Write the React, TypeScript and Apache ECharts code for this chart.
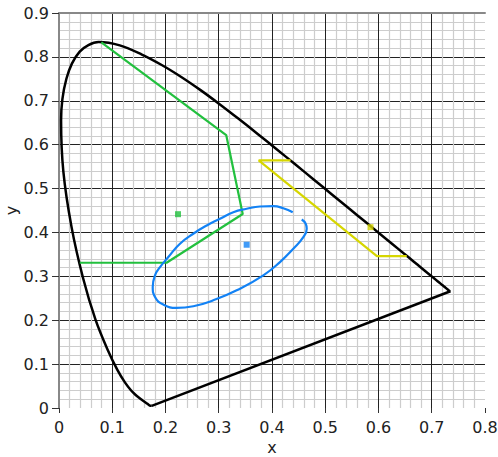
import React, { useEffect, useRef } from "react";
import * as echarts from "echarts";

// CIE 1931 spectral locus (x, y)
const locusX = [0.1741, 0.1714, 0.1689, 0.1644, 0.1566, 0.1510, 0.1440, 0.1355, 0.1241, 0.1096, 0.0913, 0.0687, 0.0454, 0.0235, 0.0082, 0.0039, 0.0139, 0.0389, 0.0743, 0.1142, 0.1547, 0.1929, 0.2296, 0.2658, 0.3016, 0.3373, 0.3731, 0.4087, 0.4441, 0.4788, 0.5125, 0.5448, 0.5752, 0.6029, 0.6270, 0.6482, 0.6658, 0.6801, 0.6915, 0.7006, 0.7079, 0.7140, 0.7190, 0.7230, 0.7260, 0.7300, 0.7320, 0.7334, 0.7344, 0.7350];
const locusY = [0.0050, 0.0051, 0.0069, 0.0109, 0.0177, 0.0227, 0.0297, 0.0399, 0.0578, 0.0868, 0.1327, 0.2007, 0.2950, 0.4127, 0.5384, 0.6548, 0.7502, 0.8120, 0.8338, 0.8262, 0.8059, 0.7816, 0.7543, 0.7243, 0.6923, 0.6589, 0.6245, 0.5896, 0.5547, 0.5202, 0.4866, 0.4544, 0.4242, 0.3965, 0.3725, 0.3514, 0.3340, 0.3197, 0.3083, 0.2993, 0.2920, 0.2859, 0.2809, 0.2770, 0.2740, 0.2700, 0.2680, 0.2666, 0.2656, 0.2660];

// purple line closing the locus
const purpleX = [0.7350, 0.1741];
const purpleY = [0.2660, 0.0050];

const greenX = [0.0795, 0.314, 0.345, 0.202, 0.039];
const greenY = [0.833, 0.622, 0.442, 0.331, 0.331];

const yellowX = [0.435, 0.375, 0.597, 0.653];
const yellowY = [0.564, 0.564, 0.346, 0.346];

const blueX = [0.4389, 0.4212, 0.4024, 0.3775, 0.3525, 0.3273, 0.3023, 0.2774, 0.2522, 0.2272, 0.2053, 0.1897, 0.1803, 0.1760, 0.1803, 0.1959, 0.2210, 0.2522, 0.2898, 0.3337, 0.3837, 0.4150, 0.4400, 0.4588, 0.4652, 0.4633, 0.4558];
const blueY = [0.4461, 0.4552, 0.4598, 0.4591, 0.4539, 0.4461, 0.4311, 0.4159, 0.3970, 0.3743, 0.3439, 0.3211, 0.3023, 0.2757, 0.2530, 0.2357, 0.2280, 0.2318, 0.2455, 0.2682, 0.3023, 0.3325, 0.3630, 0.3893, 0.4084, 0.4198, 0.4295];

const pointGreen = [0.2235, 0.4416];
const pointBlue = [0.3524, 0.372];
const pointYellow = [0.585, 0.412];

const GREEN = "#22c03e";
const BLUE = "#1282f5";
const YELLOW = "#d6d600";

const zip = (xs: number[], ys: number[]) => xs.map((x, i) => [x, ys[i]]);

const FONT = "DejaVu Sans";
const FS = 16;

export default function App() {
  const ref = useRef<HTMLDivElement>(null);
  useEffect(() => {
    if (!ref.current) return;
    const chart = echarts.init(ref.current, null, { renderer: "svg" });
    const lineSeries = (data: number[][], color: string, width: number, smooth: number | boolean) => ({
      type: "line",
      data,
      showSymbol: false,
      symbol: "none",
      smooth,
      lineStyle: { color, width },
      xAxisIndex: 0,
      yAxisIndex: 0,
    });
    const pointSeries = (p: number[], color: string) => ({
      type: "scatter",
      data: [p],
      symbol: "rect",
      symbolSize: 6,
      itemStyle: { color },
      xAxisIndex: 0,
      yAxisIndex: 0,
      z: 5,
    });
    const labelStyle = { fontSize: FS, color: "#222", fontFamily: FONT };
    chart.setOption({
      animation: false,
      textStyle: { fontSize: FS, fontFamily: FONT, color: "#222" },
      grid: { left: 59, right: 13, top: 13, bottom: 49, containLabel: false, outerBoundsMode: "none" },
      xAxis: [
        {
          type: "value",
          min: 0,
          max: 0.8,
          interval: 0.1,
          position: "bottom",
          offset: 3,
          axisLine: { show: false },
          axisTick: { show: true, length: 5, lineStyle: { color: "#333", width: 1 } },
          axisLabel: { ...labelStyle, margin: 8 },
          splitLine: { show: true, showMinLine: false, showMaxLine: false, lineStyle: { color: "#222", width: 1 } },
          minorTick: { show: false, splitNumber: 5 },
          minorSplitLine: { show: true, lineStyle: { color: "#cdcdcd", width: 1.2 } },
          name: "x",
          nameLocation: "middle",
          nameGap: 28,
          nameMoveOverlap: false,
          nameTextStyle: { ...labelStyle },
        },
        {
          type: "value",
          min: 0,
          max: 0.8,
          position: "top",
          axisLine: { show: true, onZero: false, lineStyle: { color: "#888", width: 2 } },
          axisTick: { show: false },
          axisLabel: { show: false },
          splitLine: { show: false },
        },
      ],
      yAxis: {
        type: "value",
        min: 0,
        max: 0.9,
        interval: 0.1,
        axisLine: { show: true, onZero: false, lineStyle: { color: "#888", width: 2 } },
        axisTick: { show: true, length: 7, lineStyle: { color: "#333", width: 1 } },
        axisLabel: { ...labelStyle, margin: 10 },
        splitLine: { show: true, showMinLine: false, showMaxLine: false, lineStyle: { color: "#222", width: 1 } },
        minorTick: { show: false, splitNumber: 5 },
        minorSplitLine: { show: true, lineStyle: { color: "#cdcdcd", width: 1.2 } },
        name: "y",
        nameLocation: "middle",
        nameGap: 40,
        nameRotate: 90,
        nameMoveOverlap: false,
        nameTextStyle: { ...labelStyle },
      },
      series: [
        lineSeries(zip(locusX, locusY), "#000", 2.5, 0.3),
        lineSeries(zip(purpleX, purpleY), "#000", 2.5, false),
        lineSeries(zip(greenX, greenY), GREEN, 2.2, false),
        lineSeries(zip(yellowX, yellowY), YELLOW, 2.2, false),
        lineSeries(zip(blueX, blueY), BLUE, 2.2, 0.5),
        pointSeries(pointGreen, GREEN),
        pointSeries(pointBlue, BLUE),
        pointSeries(pointYellow, YELLOW),
      ],
    });
    return () => chart.dispose();
  }, []);
  return (
    <div
      ref={ref}
      style={{ position: "absolute", left: 0, top: 0, width: 498, height: 457, background: "#fff" }}
    />
  );
}
